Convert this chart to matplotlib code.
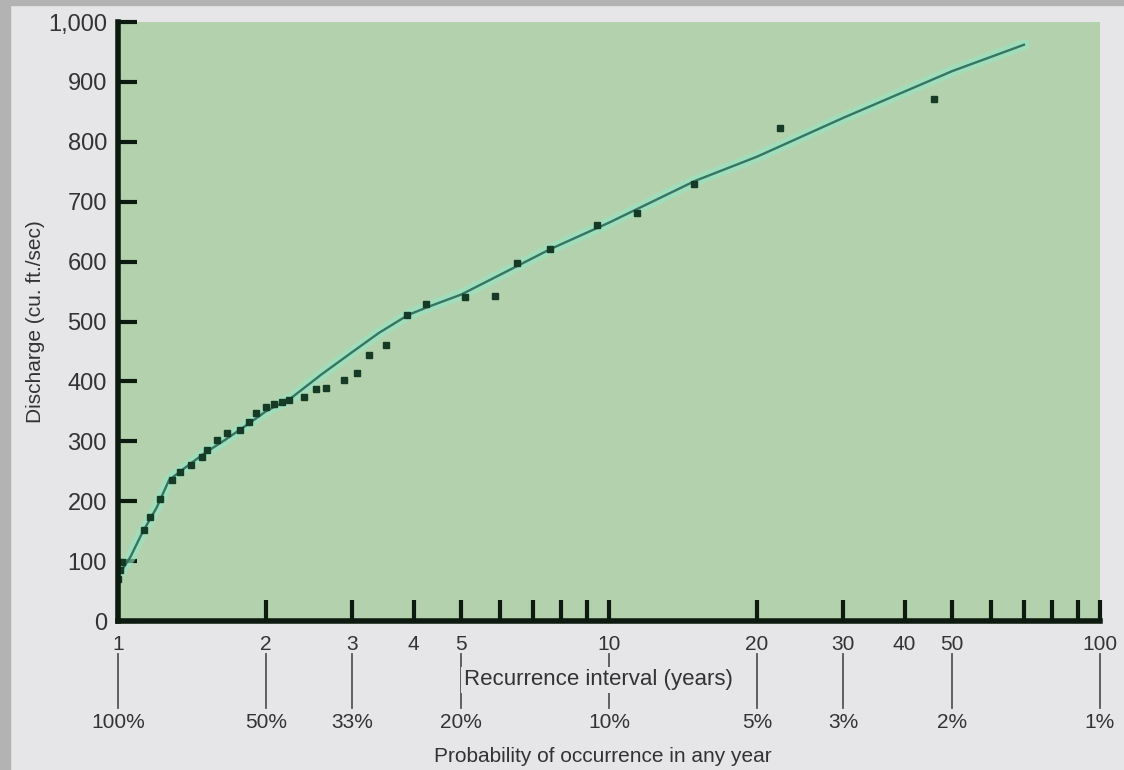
import matplotlib.pyplot as plt
import matplotlib.transforms as mtransforms
from matplotlib.patches import Rectangle
from matplotlib.ticker import FixedLocator, NullFormatter

plt.rcParams['font.family'] = ['Liberation Sans', 'DejaVu Sans']

# -------- DATA --------
# observed floods: recurrence interval (years) and discharge (cu. ft./sec)
obs_years = [1.00, 1.01, 1.02, 1.13, 1.16, 1.22, 1.29, 1.34, 1.41, 1.48, 1.52,
             1.59, 1.67, 1.77, 1.85, 1.91, 2.00, 2.08, 2.16, 2.23, 2.39, 2.53,
             2.65, 2.89, 3.07, 3.25, 3.51, 3.87, 4.23, 5.10, 5.87, 6.50, 7.60,
             9.45, 11.4, 14.9, 22.3, 45.9]
obs_discharge = [70, 85, 98, 152, 174, 204, 235, 249, 260, 274, 285,
                 302, 314, 319, 332, 347, 357, 362, 366, 369, 374, 387,
                 389, 402, 414, 444, 461, 511, 530, 541, 543, 598, 621,
                 661, 681, 730, 823, 871]

# fitted curve
fit_years = [1.0, 1.06, 1.12, 1.2, 1.27, 1.35, 1.5, 1.65, 1.85, 2.0, 2.25, 2.6,
             3.0, 3.4, 3.9, 4.3, 5.0, 6.0, 7.6, 10, 15, 20, 30, 50, 70]
fit_discharge = [75, 107, 147, 190, 235, 252, 280, 302, 330, 350, 372, 412,
                 449, 481, 511, 525, 545, 578, 621, 665, 735, 775, 840, 918, 962]

year_ticks = [1, 2, 3, 4, 5, 10, 20, 30, 40, 50, 100]
year_minor = [6, 7, 8, 9, 60, 70, 80, 90]
y_ticks = [0, 100, 200, 300, 400, 500, 600, 700, 800, 900, 1000]
y_labels = ['0', '100', '200', '300', '400', '500', '600', '700', '800', '900', '1,000']

prob_years = [1, 2, 3, 5, 10, 20, 30, 50, 100]
prob_labels = ['100%', '50%', '33%', '20%', '10%', '5%', '3%', '2%', '1%']

# -------- FIGURE --------
fig = plt.figure(figsize=(11.24, 7.7), dpi=100, facecolor='#e6e5e8')
fig.patches.append(Rectangle((0, 0), 10 / 1124, 1, transform=fig.transFigure,
                             color='#b3b3b3', zorder=-1))
fig.patches.append(Rectangle((0, 1 - 5 / 770), 1, 5 / 770, transform=fig.transFigure,
                             color='#b3b3b3', zorder=-1))

ax = fig.add_axes([118 / 1124, 1 - 621 / 770, (1100 - 118) / 1124, (621 - 22) / 770])
ax.set_facecolor('#b3d1ac')
ax.set_xscale('log')
ax.set_xlim(1, 100)
ax.set_ylim(0, 1000)

ax.plot(fit_years, fit_discharge, color='#97e6c6', lw=8, alpha=0.6, solid_capstyle='round')
ax.plot(fit_years, fit_discharge, color='#347563', lw=1.7)
ax.plot(obs_years, obs_discharge, 's', color='#173a27', ms=4, ls='none')

for s in ['top', 'right']:
    ax.spines[s].set_visible(False)
for s in ['left', 'bottom']:
    ax.spines[s].set_linewidth(4)
    ax.spines[s].set_color('#0d1a10')

ax.xaxis.set_major_locator(FixedLocator(year_ticks))
ax.xaxis.set_minor_locator(FixedLocator(year_minor))
ax.xaxis.set_minor_formatter(NullFormatter())
ax.set_xticklabels([str(v) for v in year_ticks])
ax.set_yticks(y_ticks)
ax.set_yticklabels(y_labels)
ax.tick_params(axis='x', which='both', direction='in', length=15, width=3,
               color='#0d1a10', labelsize=15, pad=10, labelcolor='#333333')
ax.tick_params(axis='y', direction='in', length=14, width=3, color='#0d1a10',
               labelsize=17, pad=8, labelcolor='#333333')

ax.set_ylabel('Discharge (cu. ft./sec)', fontsize=15, color='#333333', labelpad=2)

# -------- SECOND SCALE --------
trans = mtransforms.blended_transform_factory(ax.transData, fig.transFigure)
for yr, lab in zip(prob_years, prob_labels):
    ax.plot([yr, yr], [1 - 654 / 770, 1 - 708 / 770], transform=trans, color='#555555',
            lw=1.3, clip_on=False)
    ax.text(yr, 1 - 722 / 770, lab, transform=trans, ha='center', va='center',
            fontsize=15, color='#333333')

fig.text(598 / 1124, 1 - 680 / 770, 'Recurrence interval (years)', ha='center', va='center',
         fontsize=16, color='#333333',
         bbox=dict(facecolor='#e6e5e8', edgecolor='none', pad=2))
fig.text(603 / 1124, 1 - 757 / 770, 'Probability of occurrence in any year', ha='center',
         va='center', fontsize=15, color='#333333')

fig.savefig('out.png', dpi=100, facecolor=fig.get_facecolor())
